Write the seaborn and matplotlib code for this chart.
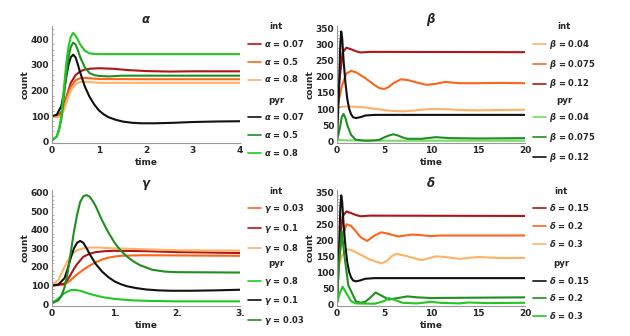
import numpy as np
import pandas as pd
import matplotlib
matplotlib.use("Agg")
import matplotlib.pyplot as plt
import seaborn as sns
from matplotlib.lines import Line2D
from matplotlib.ticker import MultipleLocator, FixedLocator

# ---------------- data ----------------
# alpha panel
a_int_007_t = [0, 0.1, 0.2, 0.25, 0.3, 0.35, 0.4, 0.5, 0.6, 0.7, 0.8, 1.0, 1.3, 1.6, 2.0, 2.5, 3.0, 4.0]
a_int_007_y = [100, 100, 115, 140, 170, 200, 230, 260, 275, 282, 285, 287, 285, 280, 276, 274, 275, 275]
a_int_05_t = [0, 0.1, 0.2, 0.25, 0.3, 0.35, 0.4, 0.5, 0.6, 0.7, 0.8, 1.0, 2.0, 4.0]
a_int_05_y = [100, 98, 110, 135, 165, 192, 215, 240, 248, 249, 248, 245, 244, 244]
a_int_08_t = [0, 0.1, 0.2, 0.25, 0.3, 0.35, 0.4, 0.5, 0.6, 0.7, 0.8, 1.0, 4.0]
a_int_08_y = [100, 95, 100, 122, 150, 178, 200, 225, 233, 234, 233, 230, 230]
a_pyr_007_t = [0, 0.1, 0.2, 0.25, 0.3, 0.35, 0.4, 0.45, 0.5, 0.55, 0.6, 0.7, 0.8, 0.9, 1.0, 1.1, 1.2, 1.35, 1.5, 1.7, 1.9, 2.2, 2.6, 3.0, 3.5, 4.0]
a_pyr_007_y = [100, 105, 140, 190, 250, 300, 330, 340, 330, 302, 270, 215, 175, 145, 122, 107, 96, 86, 79, 74, 72, 72, 74, 77, 79, 80]
a_pyr_05_t = [0, 0.1, 0.15, 0.2, 0.25, 0.3, 0.35, 0.4, 0.45, 0.5, 0.55, 0.6, 0.7, 0.8, 0.9, 1.0, 1.2, 1.5, 2.0, 4.0]
a_pyr_05_y = [5, 20, 45, 90, 170, 260, 330, 370, 387, 380, 358, 330, 290, 268, 260, 257, 255, 258, 258, 258]
a_pyr_08_t = [0, 0.1, 0.15, 0.2, 0.25, 0.3, 0.35, 0.4, 0.45, 0.5, 0.55, 0.6, 0.7, 0.8, 0.9, 1.0, 4.0]
a_pyr_08_y = [5, 20, 50, 100, 200, 300, 370, 410, 425, 415, 398, 380, 355, 345, 343, 342, 342]

# beta panel
b_int_004_t = [0, 1, 2, 3, 4, 5, 6, 7, 8, 9, 10, 11, 12, 13, 15, 17, 20]
b_int_004_y = [105, 108, 107, 105, 101, 97, 94, 93, 95, 98, 100, 100, 99, 97, 96, 97, 98]
b_int_0075_t = [0, 0.5, 1, 1.5, 2, 2.5, 3, 3.5, 4, 4.5, 5, 5.5, 6, 6.8, 7.5, 8.5, 9.5, 10.5, 11.5, 13, 15, 17, 20]
b_int_0075_y = [100, 170, 210, 218, 214, 205, 196, 185, 174, 165, 162, 168, 180, 192, 190, 182, 175, 178, 184, 180, 180, 181, 180]
b_int_012_t = [0, 0.3, 0.6, 1, 1.5, 2, 2.5, 3.5, 20]
b_int_012_y = [100, 200, 275, 290, 285, 279, 275, 277, 276]
b_pyr_004_t = [0, 0.5, 1, 2, 5, 10, 20]
b_pyr_004_y = [5, 4, 3, 3, 2, 2, 2]
b_pyr_0075_t = [0, 0.3, 0.5, 0.7, 0.9, 1.1, 1.5, 2, 3, 4, 4.5, 5, 5.5, 6, 6.5, 7, 7.5, 9, 10.5, 12, 15, 20]
b_pyr_0075_y = [5, 40, 75, 85, 72, 50, 20, 5, 2, 3, 5, 12, 18, 22, 18, 12, 8, 8, 13, 10, 9, 10]
b_pyr_012_t = [0, 0.2, 0.35, 0.45, 0.55, 0.7, 0.9, 1.1, 1.3, 1.5, 1.7, 2, 2.5, 3, 4, 20]
b_pyr_012_y = [5, 150, 300, 340, 320, 250, 180, 130, 100, 84, 75, 72, 75, 80, 82, 82]

# gamma panel
g_int_003_t = [0, 0.2, 0.3, 0.4, 0.5, 0.6, 0.7, 0.8, 0.9, 1.0, 1.1, 1.3, 1.5, 3.0]
g_int_003_y = [100, 105, 130, 160, 185, 207, 225, 240, 250, 256, 260, 262, 263, 260]
g_int_01_t = [0, 0.2, 0.25, 0.3, 0.35, 0.4, 0.5, 0.6, 0.7, 0.85, 1.0, 1.5, 2.0, 3.0]
g_int_01_y = [100, 110, 132, 160, 190, 215, 255, 271, 280, 285, 287, 285, 280, 275]
g_int_08_t = [0, 0.1, 0.15, 0.2, 0.25, 0.3, 0.35, 0.4, 0.5, 0.6, 0.7, 1.0, 2.0, 3.0]
g_int_08_y = [100, 130, 165, 200, 233, 260, 278, 290, 300, 304, 305, 300, 290, 288]
g_pyr_08_t = [0, 0.1, 0.2, 0.3, 0.35, 0.45, 0.6, 0.8, 1.0, 1.3, 1.6, 2.0, 3.0]
g_pyr_08_y = [5, 30, 60, 75, 77, 72, 55, 38, 28, 20, 17, 15, 15]
g_pyr_01_t = a_pyr_007_t[:-2] + [3.0]
g_pyr_01_y = a_pyr_007_y[:-2] + [78]
g_pyr_003_t = [0, 0.1, 0.15, 0.2, 0.25, 0.3, 0.35, 0.4, 0.45, 0.5, 0.55, 0.6, 0.65, 0.7, 0.8, 0.9, 1.0, 1.1, 1.2, 1.3, 1.4, 1.6, 1.8, 2.0, 3.0]
g_pyr_003_y = [5, 20, 45, 90, 170, 280, 390, 480, 550, 580, 587, 578, 555, 525, 450, 385, 330, 287, 255, 230, 210, 185, 175, 172, 170]

# delta panel
d_int_015_t = b_int_012_t
d_int_015_y = b_int_012_y
d_int_02_t = [0, 0.5, 1, 1.5, 2, 2.5, 3.2, 4, 4.7, 5.5, 6.5, 8, 9, 10, 11, 20]
d_int_02_y = [100, 200, 250, 245, 228, 210, 198, 215, 225, 220, 212, 218, 216, 213, 215, 215]
d_int_03_t = [0, 0.5, 1, 1.5, 2.5, 3.5, 4.7, 5.3, 5.8, 6.3, 7.5, 9, 10.5, 11.5, 13, 15, 17, 20]
d_int_03_y = [100, 150, 172, 170, 155, 140, 128, 135, 150, 158, 150, 138, 150, 148, 142, 148, 145, 145]
d_pyr_015_t = b_pyr_012_t
d_pyr_015_y = b_pyr_012_y
d_pyr_02_t = [0, 0.2, 0.5, 0.8, 1.2, 2, 2.5, 3, 3.5, 4.1, 4.7, 5.5, 6.5, 7.5, 8.5, 10, 20]
d_pyr_02_y = [5, 120, 230, 150, 60, 10, 5, 8, 20, 37, 28, 15, 20, 25, 22, 20, 22]
d_pyr_03_t = [0, 0.3, 0.6, 1, 1.5, 2, 4, 5, 5.5, 6, 7, 8.5, 10, 11, 13, 14, 16, 20]
d_pyr_03_y = [5, 35, 55, 35, 10, 3, 2, 10, 20, 15, 5, 3, 8, 5, 3, 6, 4, 5]

# colours
DARK_RED = "#B01515"
ORANGE = "#FF6418"
LIGHT_OR = "#FFB266"
BLACK = "#111111"
DARK_GR = "#1F8F1F"
BRIGHT_GR = "#22C822"
LIGHT_GR = "#77DD66"

sns.set_style("white")
plt.rcParams['font.family'] = ['DejaVu Sans']
plt.rcParams['font.weight'] = 'bold'
plt.rcParams['mathtext.fontset'] = 'dejavusans'

fig = plt.figure(figsize=(6.3, 3.36), dpi=100)
W, H = 630, 336


def make_ax(x0, x1, ytop, ybot):
    return fig.add_axes([x0 / W, 1 - ybot / H, (x1 - x0) / W, (ybot - ytop) / H])


def panel(ax, series, title, sym, int_labels, pyr_labels, xlim, ylim, xmaj, ymaj, ymin, xticklabels=None):
    for t, y, c in series:
        sns.lineplot(x=t, y=y, color=c, lw=1.5, ax=ax)
    ax.set_xlim(*xlim)
    ax.set_ylim(*ylim)
    ax.set_title(title, fontsize=8.5, pad=2)
    ax.set_xlabel("time", fontsize=6.5, fontweight='bold', labelpad=2)
    ax.set_ylabel("count", fontsize=6.5, fontweight='bold', labelpad=1)
    for s in ["top", "right"]:
        ax.spines[s].set_visible(False)
    for s in ["left", "bottom"]:
        ax.spines[s].set_color("#999999")
        ax.spines[s].set_linewidth(0.8)
    ax.xaxis.set_major_locator(FixedLocator(xmaj))
    if xticklabels is not None:
        ax.set_xticklabels(xticklabels)
    ax.yaxis.set_major_locator(MultipleLocator(ymaj))
    ax.yaxis.set_minor_locator(MultipleLocator(ymin))
    ax.tick_params(which='both', direction='in', color='#999999', labelsize=6.5, pad=2)
    ax.tick_params(which='major', length=3, width=0.7)
    ax.tick_params(which='minor', length=1.5, width=0.5, left=True)
    for lab in ax.get_xticklabels() + ax.get_yticklabels():
        lab.set_fontweight('bold')

    int_cols = [c for _, _, c in series[:3]]
    pyr_cols = [c for _, _, c in series[3:]]
    kw = dict(frameon=False, fontsize=6.0, handlelength=1.6, handletextpad=0.4,
              labelspacing=0.8, borderaxespad=0, borderpad=0,
              title_fontproperties={'weight': 'bold', 'size': 6.2})
    h1 = [Line2D([], [], color=c, lw=1.2) for c in int_cols]
    l1 = [f"${sym}$ = {v}" for v in int_labels]
    leg1 = ax.legend(h1, l1, title="int", loc='upper left', bbox_to_anchor=(1.04, 1.03), **kw)
    ax.add_artist(leg1)
    h2 = [Line2D([], [], color=c, lw=1.2) for c in pyr_cols]
    l2 = [f"${sym}$ = {v}" for v in pyr_labels]
    ax.legend(h2, l2, title="pyr", loc='upper left', bbox_to_anchor=(1.04, 0.405), **kw)


ax_a = make_ax(52, 240, 26, 143)
panel(ax_a,
      [(a_int_007_t, a_int_007_y, DARK_RED), (a_int_05_t, a_int_05_y, ORANGE), (a_int_08_t, a_int_08_y, LIGHT_OR),
       (a_pyr_007_t, a_pyr_007_y, BLACK), (a_pyr_05_t, a_pyr_05_y, DARK_GR), (a_pyr_08_t, a_pyr_08_y, BRIGHT_GR)],
      r"$\alpha$", r"\alpha", ["0.07", "0.5", "0.8"], ["0.07", "0.5", "0.8"],
      (0, 4), (-5, 452), [0, 1, 2, 3, 4], 100, 20)

ax_b = make_ax(337, 525, 26, 143)
panel(ax_b,
      [(b_int_004_t, b_int_004_y, LIGHT_OR), (b_int_0075_t, b_int_0075_y, ORANGE), (b_int_012_t, b_int_012_y, DARK_RED),
       (b_pyr_004_t, b_pyr_004_y, LIGHT_GR), (b_pyr_0075_t, b_pyr_0075_y, DARK_GR), (b_pyr_012_t, b_pyr_012_y, BLACK)],
      r"$\beta$", r"\beta", ["0.04", "0.075", "0.12"], ["0.04", "0.075", "0.12"],
      (0, 20), (-5, 357), [0, 5, 10, 15, 20], 50, 10)

ax_g = make_ax(52, 240, 190, 306)
panel(ax_g,
      [(g_int_003_t, g_int_003_y, ORANGE), (g_int_01_t, g_int_01_y, DARK_RED), (g_int_08_t, g_int_08_y, LIGHT_OR),
       (g_pyr_08_t, g_pyr_08_y, BRIGHT_GR), (g_pyr_01_t, g_pyr_01_y, BLACK), (g_pyr_003_t, g_pyr_003_y, DARK_GR)],
      r"$\gamma$", r"\gamma", ["0.03", "0.1", "0.8"], ["0.8", "0.1", "0.03"],
      (0, 3), (-10, 614), [0, 1, 2, 3], 100, 20, xticklabels=["0", "1.", "2.", "3."])

ax_d = make_ax(337, 525, 190, 306)
panel(ax_d,
      [(d_int_015_t, d_int_015_y, DARK_RED), (d_int_02_t, d_int_02_y, ORANGE), (d_int_03_t, d_int_03_y, LIGHT_OR),
       (d_pyr_015_t, d_pyr_015_y, BLACK), (d_pyr_02_t, d_pyr_02_y, DARK_GR), (d_pyr_03_t, d_pyr_03_y, BRIGHT_GR)],
      r"$\delta$", r"\delta", ["0.15", "0.2", "0.3"], ["0.15", "0.2", "0.3"],
      (0, 20), (-5, 357), [0, 5, 10, 15, 20], 50, 10)

fig.savefig("out.png", dpi=100)
